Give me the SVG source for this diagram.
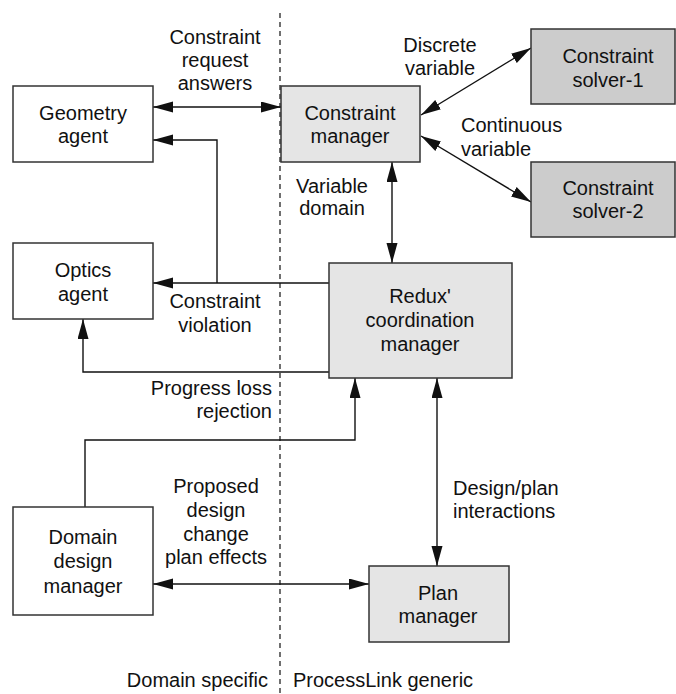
<svg xmlns="http://www.w3.org/2000/svg" width="676" height="694" viewBox="0 0 676 694">
<defs>
<style>
.box{stroke:#333;stroke-width:1.5}
.white{fill:#fff}
.light{fill:#e5e5e5}
.dark{fill:#cccccc}
text{font-family:"Liberation Sans",Arial,sans-serif;font-size:20px;fill:#111}
.c{text-anchor:middle}
.r{text-anchor:end}
.conn{fill:none;stroke:#111;stroke-width:1.4}
</style>
<marker id="arr" markerUnits="userSpaceOnUse" markerWidth="21" markerHeight="12" refX="20" refY="5.5" orient="auto-start-reverse">
<path d="M0,0 L20,5.5 L0,11 z" fill="#111"/>
</marker>
</defs>
<rect width="676" height="694" fill="#fff"/>
<line x1="280" y1="13" x2="280" y2="694" stroke="#111" stroke-width="1.2" stroke-dasharray="5,4"/>
<g id="connectors">
<path class="conn" d="M153,107 H281" marker-start="url(#arr)" marker-end="url(#arr)"/>
<path class="conn" d="M329,283 H153" marker-end="url(#arr)"/>
<path class="conn" d="M217,283 V140 H153" marker-end="url(#arr)"/>
<path class="conn" d="M329,372 H83 V319" marker-end="url(#arr)"/>
<path class="conn" d="M85,507 V440 H355 V378" marker-end="url(#arr)"/>
<path class="conn" d="M437,378 V566" marker-start="url(#arr)" marker-end="url(#arr)"/>
<path class="conn" d="M153,584 H369" marker-start="url(#arr)" marker-end="url(#arr)"/>
<path class="conn" d="M392,162 V263" marker-start="url(#arr)" marker-end="url(#arr)"/>
<path class="conn" d="M421,115 L531,48" marker-start="url(#arr)" marker-end="url(#arr)"/>
<path class="conn" d="M421,136 L531,202" marker-start="url(#arr)" marker-end="url(#arr)"/>
</g>
<g id="labels">
<text class="c" x="215" y="44">Constraint</text>
<text class="c" x="215" y="67">request</text>
<text class="c" x="215" y="90">answers</text>
<text class="c" x="440" y="52">Discrete</text>
<text class="c" x="440" y="75">variable</text>
<text x="461" y="132">Continuous</text>
<text x="461" y="156">variable</text>
<text class="c" x="332" y="193">Variable</text>
<text class="c" x="332" y="215">domain</text>
<text class="c" x="215" y="308">Constraint</text>
<text class="c" x="215" y="332">violation</text>
<text class="r" x="272" y="395">Progress loss</text>
<text class="r" x="272" y="418">rejection</text>
<text class="c" x="216" y="493">Proposed</text>
<text class="c" x="216" y="517">design</text>
<text class="c" x="216" y="541">change</text>
<text class="c" x="216" y="564">plan effects</text>
<text x="453" y="495">Design/plan</text>
<text x="453" y="518">interactions</text>
<text class="r" x="268" y="687">Domain specific</text>
<text x="293" y="687">ProcessLink generic</text>
</g>
<g id="geometry-agent">
<rect class="box white" x="13" y="86" width="140" height="76"/>
<text class="c" x="83" y="120">Geometry</text>
<text class="c" x="83" y="143">agent</text>
</g>
<g id="constraint-manager">
<rect class="box light" x="281" y="86" width="139" height="76"/>
<text class="c" x="350" y="120">Constraint</text>
<text class="c" x="350" y="143">manager</text>
</g>
<g id="constraint-solver-1">
<rect class="box dark" x="531" y="29" width="144" height="75"/>
<text class="c" x="608" y="63">Constraint</text>
<text class="c" x="608" y="87">solver-1</text>
</g>
<g id="constraint-solver-2">
<rect class="box dark" x="531" y="162" width="144" height="75"/>
<text class="c" x="608" y="195">Constraint</text>
<text class="c" x="608" y="218">solver-2</text>
</g>
<g id="optics-agent">
<rect class="box white" x="13" y="243" width="140" height="76"/>
<text class="c" x="83" y="277">Optics</text>
<text class="c" x="83" y="301">agent</text>
</g>
<g id="redux-coordination-manager">
<rect class="box light" x="329" y="263" width="183" height="115"/>
<text class="c" x="420" y="303">Redux'</text>
<text class="c" x="420" y="327">coordination</text>
<text class="c" x="420" y="351">manager</text>
</g>
<g id="domain-design-manager">
<rect class="box white" x="13" y="507" width="140" height="108"/>
<text class="c" x="83" y="544">Domain</text>
<text class="c" x="83" y="568">design</text>
<text class="c" x="83" y="593">manager</text>
</g>
<g id="plan-manager">
<rect class="box light" x="369" y="566" width="140" height="76"/>
<text class="c" x="438" y="600">Plan</text>
<text class="c" x="438" y="623">manager</text>
</g>
</svg>
